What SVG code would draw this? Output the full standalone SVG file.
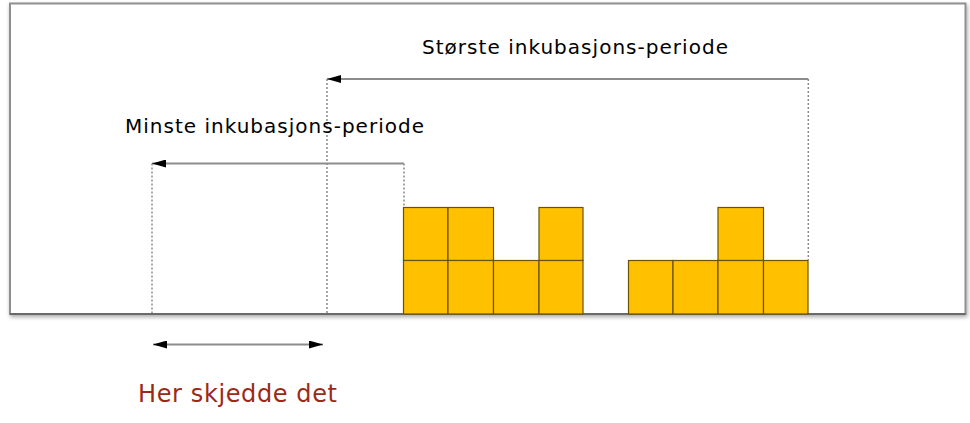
<svg xmlns="http://www.w3.org/2000/svg" width="970" height="423" viewBox="0 0 970 423">
<defs>
<style>
.lbl{font-family:"DejaVu Sans",Verdana,sans-serif;font-size:20px;fill:#000}
.red{font-family:"DejaVu Sans",Verdana,sans-serif;font-size:24px;fill:#9a2a17}
.blk{fill:#FFC000;stroke:#6b5200;stroke-width:1.2}
.dot{stroke:#8a8a8a;stroke-width:1.5;stroke-dasharray:2 2;fill:none}
.arr{stroke:#8c8c8c;stroke-width:2;fill:none}
</style>
<marker id="ah" viewBox="0 0 10 10" refX="10" refY="5" markerWidth="14" markerHeight="8" markerUnits="userSpaceOnUse" orient="auto-start-reverse" preserveAspectRatio="none">
<path d="M0,0 L10,5 L0,10 Z" fill="#000"/>
</marker>
<filter id="sh" x="-5%" y="-5%" width="110%" height="115%">
<feGaussianBlur in="SourceAlpha" stdDeviation="2"/>
<feOffset dx="1" dy="2"/>
<feComponentTransfer><feFuncA type="linear" slope="0.35"/></feComponentTransfer>
<feMerge><feMergeNode/><feMergeNode in="SourceGraphic"/></feMerge>
</filter>
</defs>
<rect width="970" height="423" fill="#fff"/>
<g id="frame">
<rect x="10" y="3.5" width="955.5" height="310.5" fill="#fff" stroke="#8f8f8f" stroke-width="2" filter="url(#sh)"/>
<line x1="10" y1="314" x2="965.5" y2="314" stroke="#6a6a6a" stroke-width="2"/>
</g>
<g id="blocks">
<rect class="blk" x="403.5" y="207.5" width="44.5" height="53"/>
<rect class="blk" x="448" y="207.5" width="45.5" height="53"/>
<rect class="blk" x="539" y="207.5" width="44" height="53"/>
<rect class="blk" x="403.5" y="260.5" width="44.5" height="53.5"/>
<rect class="blk" x="448" y="260.5" width="45.5" height="53.5"/>
<rect class="blk" x="493.5" y="260.5" width="45.5" height="53.5"/>
<rect class="blk" x="539" y="260.5" width="44" height="53.5"/>
<rect class="blk" x="718" y="207.5" width="45.5" height="53"/>
<rect class="blk" x="628.5" y="260.5" width="44.5" height="53.5"/>
<rect class="blk" x="673" y="260.5" width="45" height="53.5"/>
<rect class="blk" x="718" y="260.5" width="45.5" height="53.5"/>
<rect class="blk" x="763.5" y="260.5" width="44.5" height="53.5"/>
</g>
<g id="connectors">
<line class="dot" x1="808.3" y1="79" x2="808.3" y2="260"/>
<line class="dot" x1="327" y1="79" x2="327" y2="313"/>
<line class="dot" x1="404" y1="163.5" x2="404" y2="207"/>
<line class="dot" x1="152" y1="163.5" x2="152" y2="313"/>
<line class="arr" x1="808.3" y1="79" x2="327" y2="79" marker-end="url(#ah)"/>
<line class="arr" x1="404" y1="163.5" x2="152" y2="163.5" marker-end="url(#ah)"/>
<line class="arr" x1="153" y1="344.5" x2="323" y2="344.5" marker-start="url(#ah)" marker-end="url(#ah)"/>
</g>
<g id="labels">
<text class="lbl" x="422" y="54" textLength="306" lengthAdjust="spacing">Største inkubasjons-periode</text>
<text class="lbl" x="125" y="133" textLength="299" lengthAdjust="spacing">Minste inkubasjons-periode</text>
<text class="red" x="138" y="402" textLength="199" lengthAdjust="spacing">Her skjedde det</text>
</g>
</svg>
